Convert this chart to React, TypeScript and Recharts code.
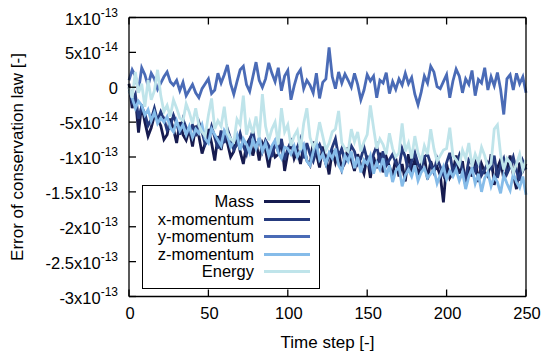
import React from "react";
import { LineChart, Line, XAxis, YAxis, Legend } from "recharts";

// values are in units of 1e-14
const steps = [
  0, 2, 4, 6, 8, 10, 12, 14, 16, 18, 20, 22, 24, 26, 28, 30, 32, 34, 36, 38,
  40, 42, 44, 46, 48, 50, 52, 54, 56, 58, 60, 62, 64, 66, 68, 70, 72, 74, 76, 78,
  80, 82, 84, 86, 88, 90, 92, 94, 96, 98, 100, 102, 104, 106, 108, 110, 112, 114, 116, 118,
  120, 122, 124, 126, 128, 130, 132, 134, 136, 138, 140, 142, 144, 146, 148, 150, 152, 154, 156, 158,
  160, 162, 164, 166, 168, 170, 172, 174, 176, 178, 180, 182, 184, 186, 188, 190, 192, 194, 196, 198,
  200, 202, 204, 206, 208, 210, 212, 214, 216, 218, 220, 222, 224, 226, 228, 230, 232, 234, 236, 238,
  240, 242, 244, 246, 248, 250,
];

const mass = [
  0.5, -3.0, -1.5, -6.5, -2.5, -5.0, -7.0, -5.8, -4.0, -4.6,
  -5.5, -7.5, -6.8, -4.5, -6.0, -8.0, -5.0, -6.8, -7.6, -6.0,
  -8.5, -5.5, -7.0, -9.5, -8.0, -6.0, -8.0, -10.5, -7.0, -9.0,
  -6.5, -8.0, -10.0, -9.2, -6.8, -9.2, -11.0, -8.2, -7.4, -9.8,
  -7.8, -10.5, -8.0, -9.0, -11.5, -8.5, -10.0, -9.6, -7.6, -12.0,
  -9.4, -8.0, -10.2, -9.0, -11.0, -8.4, -10.5, -11.2, -7.8, -9.5,
  -11.5, -8.5, -10.0, -12.5, -9.0, -10.8, -9.2, -11.8, -10.6, -8.6,
  -10.4, -12.0, -9.6, -11.2, -12.4, -9.8, -13.0, -10.0, -11.6, -9.4,
  -12.2, -10.0, -11.4, -12.6, -10.2, -12.8, -11.0, -13.5, -9.6, -11.8,
  -10.4, -12.6, -11.0, -9.8, -13.2, -10.6, -12.0, -11.4, -12.6, -16.5,
  -11.0, -13.0, -12.2, -9.8, -12.4, -10.6, -14.2, -11.4, -12.8, -10.2,
  -13.6, -11.0, -12.2, -12.8, -9.6, -14.0, -11.6, -10.4, -13.2, -11.8,
  -9.8, -12.5, -14.6, -10.8, -12.0, -11.0,
];

const xMomentum = [
  0.0, -2.0, -1.0, -4.5, -2.8, -3.8, -5.5, -4.6, -3.0, -4.8,
  -3.5, -4.5, -6.2, -5.6, -4.0, -5.2, -6.8, -4.6, -5.8, -6.5,
  -5.4, -7.0, -5.0, -6.4, -8.2, -7.4, -5.6, -7.2, -8.8, -6.2,
  -8.0, -6.0, -7.4, -9.0, -8.2, -6.6, -8.4, -9.6, -7.6, -6.2,
  -8.8, -7.4, -9.2, -7.6, -8.4, -10.0, -8.0, -9.2, -7.4, -10.4,
  -8.8, -7.8, -9.4, -8.6, -7.4, -10.2, -8.0, -9.6, -10.6, -9.0,
  -8.2, -9.4, -11.0, -10.0, -8.6, -7.4, -10.0, -8.8, -10.8, -9.8,
  -8.4, -9.2, -11.0, -10.2, -8.6, -10.4, -11.8, -9.6, -8.4, -10.8,
  -9.2, -11.2, -10.4, -9.6, -10.8, -11.6, -8.8, -10.0, -12.2, -10.6,
  -9.4, -11.0, -11.8, -10.0, -9.6, -11.0, -12.2, -10.2, -11.4, -12.6,
  -10.8, -9.4, -12.2, -11.2, -9.8, -11.8, -13.0, -10.4, -11.0, -12.0,
  -10.2, -12.6, -11.8, -10.8, -11.6, -9.8, -13.0, -11.2, -10.2, -12.4,
  -11.4, -10.0, -12.0, -13.4, -10.6, -11.8,
];

const yMomentum = [
  1.0, 2.5, 1.6, -0.5, 2.8, 1.8, 0.2, 2.0, 1.2, -0.3,
  0.6, 1.5, 2.2, 0.8, 0.3, 1.0, -0.5, 0.7, -1.2, -0.4,
  0.4, -0.8, -1.5, -0.2, 0.5, 1.2, -0.9, -0.4, 2.0, 0.6,
  1.8, 3.2, 0.5, -1.0, 0.8, 2.5, 3.0, 0.4, -0.6, 1.5,
  3.6, 1.0, 0.0, 1.2, 3.5, 2.0, 0.8, 2.8, -0.5, 1.6,
  2.4, -1.8, 0.2, 1.8, 2.5, -0.2, 1.0, 0.3, -0.8, 2.0,
  -1.6, 0.7, 1.2, 5.7, 1.5, -0.2, 2.2, 0.6, 1.9, 1.0,
  0.0, 2.0, 0.4, -1.8, -0.4, 1.8, 0.9, 1.6, -1.5, 1.0,
  0.6, 2.1, -0.9, 0.8, -0.3, 1.2, 0.3, 2.0, 0.5, 1.4,
  -1.0, -2.5, -0.7, 1.6, 0.6, 3.0, 2.2, 0.1, -0.2, 0.8,
  1.8, -1.5, 0.9, 2.6, 1.6, -0.8, 1.2, 0.4, 2.4, -1.2,
  1.1, 0.6, 2.8, -0.4, 1.5, 0.2, 2.1, -0.3, -3.9, 1.2,
  1.8, -0.4, 2.0, 0.5, 1.5, -0.8,
];

const zMomentum = [
  -0.5, -1.5, -3.0, -2.0, -2.6, -4.0, -3.2, -4.8, -3.6, -5.2,
  -4.4, -5.0, -4.2, -5.8, -6.4, -4.8, -6.2, -5.4, -6.8, -5.6,
  -7.2, -6.0, -6.6, -5.4, -7.4, -8.0, -6.0, -6.8, -7.6, -8.4,
  -6.2, -7.0, -8.6, -7.8, -6.8, -9.0, -7.4, -8.2, -9.4, -7.6,
  -8.8, -7.2, -9.2, -8.0, -9.8, -8.4, -7.6, -9.4, -10.2, -8.6,
  -8.8, -9.6, -8.4, -10.0, -9.0, -8.2, -10.6, -11.2, -9.2, -8.0,
  -10.4, -9.6, -11.0, -9.4, -10.2, -8.8, -11.2, -12.0, -9.8, -10.6,
  -9.2, -11.6, -10.0, -12.2, -10.4, -11.0, -9.8, -12.4, -10.8, -11.8,
  -10.2, -12.8, -11.2, -13.6, -12.0, -11.4, -14.2, -12.6, -11.8, -12.8,
  -11.2, -13.4, -12.2, -11.6, -13.0, -12.4, -11.8, -13.8, -12.6, -11.4,
  -13.2, -12.0, -12.8, -11.8, -13.4, -12.2, -14.6, -12.8, -11.6, -13.8,
  -12.4, -15.0, -13.0, -12.2, -14.2, -12.8, -13.6, -15.2, -12.6, -13.8,
  -14.8, -12.4, -13.6, -14.4, -12.8, -15.4,
];

const energy = [
  0.0, -1.5, 2.2, -0.8, 0.5, -2.8, 1.0, -1.8, -0.5, 2.5,
  -1.2, -3.5, -2.6, -4.2, -1.8, -3.0, -4.4, -4.8, -2.4, -3.6,
  -5.2, -3.0, -5.5, -6.4, -7.0, -4.0, -1.6, -6.0, -4.8, -5.6,
  -2.8, -6.5, -7.4, -7.8, -4.6, -5.4, -1.2, -6.8, -5.0, -6.6,
  -4.2, -7.2, -1.0, -5.6, -7.6, -6.0, -5.0, -8.2, -3.0, -6.4,
  -5.4, -8.4, -7.0, -6.2, -9.0, -5.2, -3.0, -7.2, -8.6, -7.6,
  -5.0, -7.0, -9.0, -8.0, -6.4, -6.0, -3.4, -8.0, -8.8, -9.2,
  -6.0, -7.8, -6.4, -9.2, -7.8, -6.8, -2.6, -5.8, -8.8, -7.4,
  -8.2, -9.6, -6.6, -8.8, -10.0, -9.4, -5.2, -9.2, -8.0, -10.2,
  -7.0, -9.4, -10.6, -8.4, -9.6, -6.0, -8.8, -10.6, -9.8, -9.0,
  -8.8, -5.8, -9.8, -10.4, -11.2, -9.0, -10.2, -8.0, -11.4, -9.6,
  -10.8, -8.6, -9.8, -11.6, -11.0, -6.0, -5.4, -9.6, -11.8, -10.2,
  -10.8, -12.2, -11.0, -9.6, -11.8, -10.4,
];

const xTicks = [0, 50, 100, 150, 200, 250];
const yTicks = [10, 5, 0, -5, -10, -15, -20, -25, -30];
const yTickBase = ["1x10", "5x10", "0", "-5x10", "-1x10", "-1.5x10", "-2x10", "-2.5x10", "-3x10"];
const yTickExp = ["-13", "-14", "", "-14", "-13", "-13", "-13", "-13", "-13"];

const seriesNames = ["Mass", "x-momentum", "y-momentum", "z-momentum", "Energy"];
const seriesKeys = ["mass", "xm", "ym", "zm", "en"];
const seriesColors = ["#161b4f", "#253a7d", "#4a6bb6", "#86bce9", "#bfe4ea"];

const data = steps.map((t, i) => ({
  t,
  mass: mass[i],
  xm: xMomentum[i],
  ym: yMomentum[i],
  zm: zMomentum[i],
  en: energy[i],
}));

const FONT = '"Liberation Sans", Arial, Helvetica, sans-serif';
const TICK_LEN = 7;

const LeftTick = (props: any) => {
  const { x, y, payload } = props;
  const idx = yTicks.indexOf(payload.value);
  const exp = yTickExp[idx];
  return (
    <g>
      <line x1={x + 11} x2={x + 11 + TICK_LEN} y1={y} y2={y} stroke="#000" strokeWidth={1.3} />
      <text x={x} y={y} dy={7} textAnchor="end" fontSize={16.5} fontFamily={FONT} fill="#000">
        {yTickBase[idx]}
        {exp ? (
          <tspan dy={-8} fontSize={12}>
            {exp}
          </tspan>
        ) : null}
      </text>
    </g>
  );
};

const RightTick = (props: any) => {
  const { x, y } = props;
  return <line x1={x} x2={x - TICK_LEN} y1={y} y2={y} stroke="#000" strokeWidth={1.3} />;
};

const BottomTick = (props: any) => {
  const { x, y, payload } = props;
  return (
    <g>
      <line x1={x} x2={x} y1={y} y2={y - TICK_LEN} stroke="#000" strokeWidth={1.3} />
      <text x={x + 1} y={y} dy={22} textAnchor="middle" fontSize={16.5} fontFamily={FONT} fill="#000">
        {payload.value}
      </text>
    </g>
  );
};

const TopTick = (props: any) => {
  const { x, y } = props;
  return <line x1={x} x2={x} y1={y} y2={y + TICK_LEN} stroke="#000" strokeWidth={1.3} />;
};

const renderLegend = (props: any) => {
  const items = [...(props.payload || [])].sort(
    (a: any, b: any) => seriesNames.indexOf(a.value) - seriesNames.indexOf(b.value)
  );
  return (
    <div
      style={{
        boxSizing: "border-box",
        width: 178,
        height: 104,
        border: "1.3px solid #000",
        background: "#fff",
        paddingTop: 7,
        fontFamily: FONT,
        fontSize: 16.5,
        color: "#000",
      }}
    >
      {items.map((entry: any) => (
        <div
          key={entry.value}
          style={{ display: "flex", alignItems: "center", height: 17.5, lineHeight: "17.5px" }}
        >
          <span style={{ width: 111, textAlign: "right", whiteSpace: "nowrap" }}>{entry.value}</span>
          <span
            style={{
              display: "inline-block",
              marginLeft: 10,
              width: 46,
              height: 3,
              background: entry.color,
            }}
          />
        </div>
      ))}
    </div>
  );
};

export default function App() {
  return (
    <div style={{ position: "absolute", left: 0, top: 0, background: "#fff" }}>
      <LineChart
        width={546}
        height={356}
        data={data}
        margin={{ top: 0, right: 0, bottom: 0, left: 9 }}
      >
        <XAxis
          dataKey="t"
          type="number"
          domain={[0, 250]}
          ticks={xTicks}
          height={59.5}
          tickSize={0}
          tickMargin={0}
          tickLine={false}
          axisLine={{ stroke: "#000", strokeWidth: 1.3 }}
          tick={<BottomTick />}
          interval={0}
          label={(p: any) => {
            const vb = p.viewBox || {};
            return (
              <text
                x={vb.x + vb.width / 2}
                y={vb.y + 51}
                textAnchor="middle"
                fontSize={17}
                fontFamily={FONT}
                fill="#000"
              >
                Time step [-]
              </text>
            );
          }}
        />
        <XAxis
          xAxisId="top"
          dataKey="t"
          type="number"
          orientation="top"
          domain={[0, 250]}
          ticks={xTicks}
          height={17.5}
          tickSize={0}
          tickMargin={0}
          tickLine={false}
          axisLine={{ stroke: "#000", strokeWidth: 1.3 }}
          tick={<TopTick />}
          interval={0}
        />
        <YAxis
          type="number"
          domain={[-30, 10]}
          ticks={yTicks}
          width={120}
          tickSize={0}
          tickMargin={11}
          tickLine={false}
          axisLine={{ stroke: "#000", strokeWidth: 1.3 }}
          tick={<LeftTick />}
          interval={0}
          label={(p: any) => {
            const vb = p.viewBox || {};
            const cy = vb.y + vb.height / 2;
            return (
              <text
                x={23}
                y={cy}
                textAnchor="middle"
                fontSize={17}
                fontFamily={FONT}
                fill="#000"
                transform={`rotate(-90, 23, ${cy})`}
              >
                Error of conservation law [-]
              </text>
            );
          }}
        />
        <YAxis
          yAxisId="r"
          orientation="right"
          type="number"
          domain={[-30, 10]}
          ticks={yTicks}
          width={20}
          tickSize={0}
          tickMargin={0}
          tickLine={false}
          axisLine={{ stroke: "#000", strokeWidth: 1.3 }}
          tick={<RightTick />}
          interval={0}
        />
        <Legend
          layout="vertical"
          align="center"
          verticalAlign="middle"
          content={renderLegend}
          wrapperStyle={{ left: 142, top: 185, width: 178, height: 104 }}
        />
        {seriesKeys.map((k, i) => (
          <Line
            key={k}
            dataKey={k}
            name={seriesNames[i]}
            stroke={seriesColors[i]}
            strokeWidth={2.8}
            dot={false}
            activeDot={false}
            type="linear"
            isAnimationActive={false}
          />
        ))}
      </LineChart>
    </div>
  );
}
